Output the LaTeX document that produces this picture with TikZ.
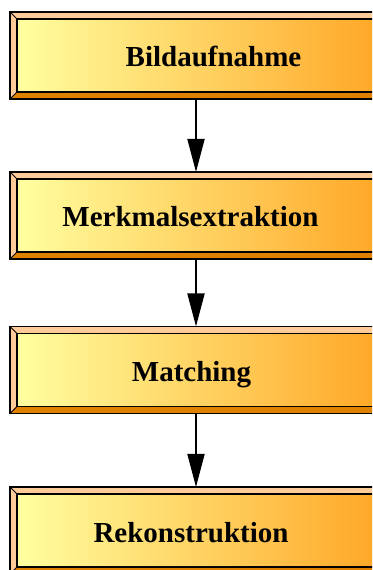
\documentclass[tikz,border=0pt]{standalone}
\usepackage{fontspec}
\setmainfont{Liberation Serif}
\usetikzlibrary{arrows.meta}
\definecolor{peach}{RGB}{255,204,153}
\definecolor{darkbev}{RGB}{222,128,0}
\definecolor{gyellow}{RGB}{255,255,160}
\definecolor{gorange}{RGB}{255,168,40}
\tikzset{
  boxnode/.style={minimum width=372pt, minimum height=87pt, inner sep=0pt, outer sep=0pt},
  label/.style={anchor=base, inner sep=0pt, font=\fontsize{29}{34}\selectfont\bfseries},
  arr/.style={line width=1.8pt, -{Triangle[length=33pt,width=17pt]}, shorten <=1pt},
  edge/.style={line width=1.1pt, line join=miter}
}
\newcommand\bevbox[1]{%
  \fill[peach] (#1.north west) -- (#1.north east) -- ([shift={(-7pt,-7pt)}]#1.north east)
     -- ([shift={(7pt,-7pt)}]#1.north west) -- ([shift={(7pt,7pt)}]#1.south west) -- (#1.south west) -- cycle;
  \fill[darkbev] (#1.south west) -- (#1.south east) -- (#1.north east) -- ([shift={(-7pt,-7pt)}]#1.north east)
     -- ([shift={(-7pt,7pt)}]#1.south east) -- ([shift={(7pt,7pt)}]#1.south west) -- cycle;
  \shade[left color=gyellow, right color=gorange] ([shift={(7pt,7pt)}]#1.south west) rectangle ([shift={(-7pt,-7pt)}]#1.north east);
  \draw[edge] (#1.south west) rectangle (#1.north east);
  \draw[edge] ([shift={(7pt,7pt)}]#1.south west) rectangle ([shift={(-7pt,-7pt)}]#1.north east);
  \draw[line width=0.8pt] (#1.south west) -- ([shift={(7pt,7pt)}]#1.south west);
  \draw[line width=0.8pt] (#1.north west) -- ([shift={(7pt,-7pt)}]#1.north west);
  \draw[line width=0.8pt] (#1.south east) -- ([shift={(-7pt,7pt)}]#1.south east);
}
\begin{document}
\begin{tikzpicture}[x=1pt,y=1pt]
\useasboundingbox (0,0) rectangle (372,570);
\clip (0,0) rectangle (372,570);
\fill[white] (0,0) rectangle (372,570);
\node[boxnode] (b1) at (196,514.5) {};
\node[boxnode] (b2) at (196,354.5) {};
\node[boxnode] (b3) at (196,200) {};
\node[boxnode] (b4) at (196,39.5) {};
\bevbox{b1}
\bevbox{b2}
\bevbox{b3}
\bevbox{b4}
\node[label] (t1) at (213.5,503.3) {Bildaufnahme};
\node[label] (t2) at (190.5,343.3) {Merkmalsextraktion};
\node[label] (t3) at (191.5,188) {Matching};
\node[label] (t4) at (191,27.3) {Rekonstruktion};
\draw[arr] (b1.south) -- (b2.north);
\draw[arr] (b2.south) -- (b3.north);
\draw[arr] (b3.south) -- (b4.north);
\end{tikzpicture}
\end{document}
